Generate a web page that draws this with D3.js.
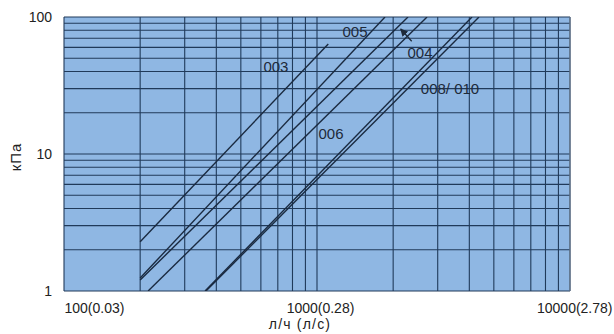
<!DOCTYPE html>
<html>
<head>
<meta charset="utf-8">
<script src="https://cdn.jsdelivr.net/npm/d3@7"></script>
<style>
  html, body { margin: 0; padding: 0; background: #ffffff; }
  svg { display: block; font-family: "Liberation Sans", Arial, sans-serif; }
</style>
</head>
<body>
<svg id="chart" width="614" height="334"></svg>
<script>
// ---- data ----
const seriesNames = ["003", "005", "004", "006", "008", "010"];
const flowStart = [200, 200, 200, 215, 361, 364];      // л/ч
const dpStart   = [2.29, 1.244, 1.203, 1, 1, 1];        // кПа
const flowEnd   = [1108, 1857, 2289, 2722, 4099, 4369]; // л/ч
const dpEnd     = [63.5, 100, 100, 100, 100, 100];      // кПа

const xTickValues = [100, 1000, 10000];
const xTickLabels = ["100(0.03)", "1000(0.28)", "10000(2.78)"];
const yTickValues = [1, 10, 100];
const yTickLabels = ["1", "10", "100"];
const xGridValues = [100, 200, 300, 400, 500, 600, 700, 800, 900, 1000,
                     2000, 3000, 4000, 5000, 6000, 7000, 8000, 9000, 10000];
const yGridValues = [1, 2, 3, 4, 5, 6, 7, 8, 9, 10, 20, 30, 40, 50, 60, 70, 80, 90, 100];

const labelTexts = ["003", "005", "004", "006", "008/ 010"];
const labelQ = [688, 1413, 2553, 1136, 3356];
const labelP = [43.2, 78.4, 54.6, 14.2, 29.8];
const arrowFrom = [2368, 66.5];
const arrowTo = [2142, 81.7];

const xTitle = "л/ч (л/с)";
const yTitle = "кПа";

// ---- layout ----
const margin = { left: 64, top: 17, right: 44, bottom: 43 };
const W = 614, H = 334;
const iw = W - margin.left - margin.right;
const ih = H - margin.top - margin.bottom;

const svg = d3.select("#chart");
const x = d3.scaleLog().domain([100, 10000]).range([margin.left, margin.left + iw]);
const y = d3.scaleLog().domain([1, 100]).range([margin.top + ih, margin.top]);

const gridColor = "#203a5a";
const lineColor = "#1a2a40";

svg.append("rect")
  .attr("x", x(100)).attr("y", y(100))
  .attr("width", x(10000) - x(100)).attr("height", y(1) - y(100))
  .attr("fill", "#8fb7e3");

// grid
svg.append("g").selectAll("line").data(xGridValues).join("line")
  .attr("x1", d => x(d)).attr("x2", d => x(d))
  .attr("y1", y(1)).attr("y2", y(100))
  .attr("stroke", gridColor).attr("stroke-width", 1.1);
svg.append("g").selectAll("line").data(yGridValues).join("line")
  .attr("y1", d => y(d)).attr("y2", d => y(d))
  .attr("x1", x(100)).attr("x2", x(10000))
  .attr("stroke", gridColor).attr("stroke-width", 1.1);

// border (lighter on the right)
svg.append("line")
  .attr("x1", x(10000)).attr("x2", x(10000)).attr("y1", y(1)).attr("y2", y(100))
  .attr("stroke", "#6f7f90").attr("stroke-width", 1.2);

// clip
svg.append("clipPath").attr("id", "clip").append("rect")
  .attr("x", x(100)).attr("y", y(100))
  .attr("width", x(10000) - x(100)).attr("height", y(1) - y(100));

const lineGen = d3.line().x(d => x(d[0])).y(d => y(d[1]));
const seriesData = seriesNames.map((n, i) => ({
  name: n,
  pts: [[flowStart[i], dpStart[i]], [flowEnd[i], dpEnd[i]]]
}));
svg.append("g").attr("clip-path", "url(#clip)")
  .selectAll("path").data(seriesData).join("path")
  .attr("d", d => lineGen(d.pts))
  .attr("fill", "none")
  .attr("stroke", lineColor)
  .attr("stroke-width", 1.4);

// labels inside plot
svg.append("g").selectAll("text").data(labelTexts).join("text")
  .attr("x", (d, i) => x(labelQ[i]))
  .attr("y", (d, i) => y(labelP[i]))
  .attr("dy", "0.36em")
  .attr("text-anchor", "middle")
  .attr("font-size", 15)
  .attr("fill", "#1e2a3a")
  .text(d => d);

// arrow
svg.append("defs").append("marker")
  .attr("id", "arrowhead").attr("viewBox", "0 0 10 10")
  .attr("refX", 9).attr("refY", 5)
  .attr("markerWidth", 6).attr("markerHeight", 6)
  .attr("orient", "auto")
  .append("path").attr("d", "M0,0 L10,5 L0,10 z").attr("fill", "#1e2a3a");
svg.append("line")
  .attr("x1", x(arrowFrom[0])).attr("y1", y(arrowFrom[1]))
  .attr("x2", x(arrowTo[0])).attr("y2", y(arrowTo[1]))
  .attr("stroke", "#1e2a3a").attr("stroke-width", 1.3)
  .attr("marker-end", "url(#arrowhead)");

// axes
const xAxis = d3.axisBottom(x).tickValues(xTickValues)
  .tickFormat((d, i) => xTickLabels[i]).tickSize(0).tickPadding(12);
const gx = svg.append("g").attr("transform", `translate(0,${y(1)})`).call(xAxis);
gx.select(".domain").remove();
gx.selectAll("text")
  .attr("font-size", 14).attr("fill", "#222")
  .attr("font-family", "Liberation Sans, Arial, sans-serif")
  .attr("text-anchor", (d, i) => i === 0 ? "start" : (i === 2 ? "end" : "middle"))
  .attr("dx", (d, i) => i === 0 ? 0 : (i === 2 ? 42 : 3));

const yAxis = d3.axisLeft(y).tickValues(yTickValues)
  .tickFormat((d, i) => yTickLabels[i]).tickSize(0).tickPadding(12);
const gy = svg.append("g").attr("transform", `translate(${x(100)},0)`).call(yAxis);
gy.select(".domain").remove();
gy.selectAll("text")
  .attr("font-size", 14).attr("fill", "#222")
  .attr("font-family", "Liberation Sans, Arial, sans-serif");

// titles
svg.append("text")
  .attr("x", 300).attr("y", H - 5)
  .attr("text-anchor", "middle")
  .attr("font-size", 14).attr("letter-spacing", 1.2).attr("fill", "#222")
  .text(xTitle);
svg.append("text")
  .attr("transform", `translate(21,157) rotate(-90)`)
  .attr("text-anchor", "middle")
  .attr("font-size", 15).attr("letter-spacing", 1).attr("fill", "#222")
  .text(yTitle);
</script>
</body>
</html>
